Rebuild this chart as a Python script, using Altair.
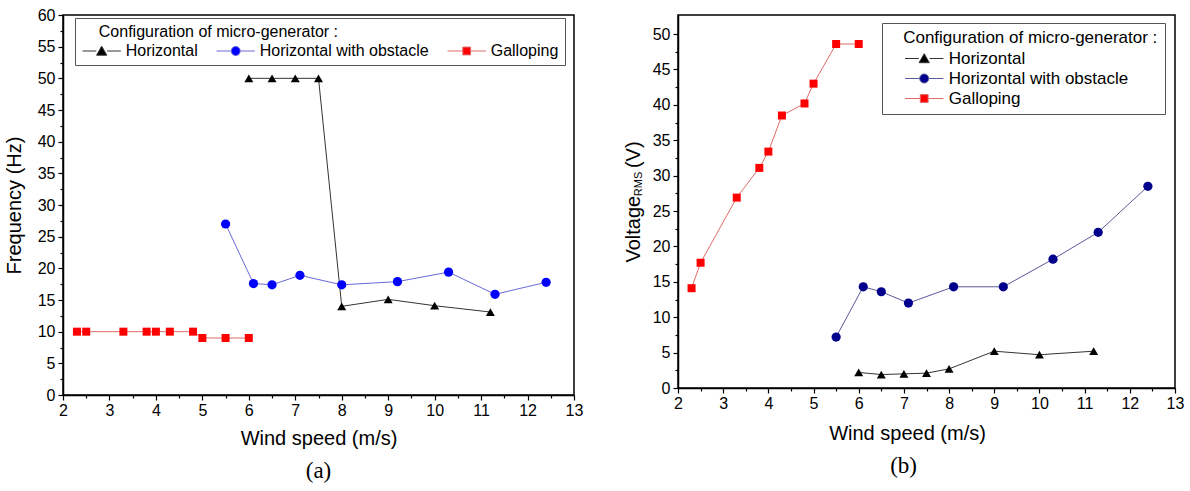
import altair as alt
import pandas as pd

series_names = ["Horizontal", "Horizontal with obstacle", "Galloping"]

# (a) Frequency (Hz) vs wind speed (m/s)
freq_h_x = [6.0, 6.5, 7.0, 7.5, 8.0, 9.0, 10.0, 11.2]
freq_h_y = [50, 50, 50, 50, 14.0, 15.1, 14.1, 13.1]
freq_o_x = [5.5, 6.1, 6.5, 7.1, 8.0, 9.2, 10.3, 11.3, 12.4]
freq_o_y = [27.0, 17.6, 17.4, 18.9, 17.4, 17.9, 19.4, 15.9, 17.8]
freq_g_x = [2.3, 2.5, 3.3, 3.8, 4.0, 4.3, 4.8, 5.0, 5.5, 6.0]
freq_g_y = [10, 10, 10, 10, 10, 10, 10, 9, 9, 9]

# (b) Voltage RMS (V) vs wind speed (m/s)
volt_h_x = [6.0, 6.5, 7.0, 7.5, 8.0, 9.0, 10.0, 11.2]
volt_h_y = [2.2, 1.9, 2.0, 2.1, 2.7, 5.2, 4.7, 5.2]
volt_o_x = [5.5, 6.1, 6.5, 7.1, 8.1, 9.2, 10.3, 11.3, 12.4]
volt_o_y = [7.2, 14.3, 13.6, 12.0, 14.3, 14.3, 18.2, 22.0, 28.5]
volt_g_x = [2.3, 2.5, 3.3, 3.8, 4.0, 4.3, 4.8, 5.0, 5.5, 6.0]
volt_g_y = [14.1, 17.7, 26.9, 31.1, 33.4, 38.5, 40.2, 43.0, 48.6, 48.6]

x_tick_values = [2 + 0.5 * i for i in range(23)]
freq_tick_values = [2.5 * i for i in range(25)]
volt_tick_values = [2.5 * i for i in range(21)]

left_marker_colors = ["#000000", "#0000ff", "#ff0000"]
left_line_colors = ["#333333", "#6a6ad8", "#e06a6a"]
right_marker_colors = ["#000000", "#00008c", "#ff0000"]
right_line_colors = ["#333333", "#5a5a9a", "#e06a6a"]
marker_shapes = ["triangle-up", "circle", "square"]

# legend glyphs: a short line with the marker in the middle (unit = sqrt(size)/2 px)
legend_paths = [
    "M-3.2,0H-0.9M0.9,0H3.2M-0.85,0.7L0,-0.8L0.85,0.7Z",
    "M-3.2,0H-0.8M0.8,0H3.2M0.75,0A0.75,0.75,0,1,1,-0.75,0A0.75,0.75,0,1,1,0.75,0Z",
    "M-3.2,0H-0.7M0.7,0H3.2M-0.65,-0.65H0.65V0.65H-0.65Z",
]


def make_df(hx, hy, ox, oy, gx, gy):
    rows = []
    for name, xs, ys in zip(series_names, [hx, ox, gx], [hy, oy, gy]):
        for i, (x, y) in enumerate(zip(xs, ys)):
            rows.append({"series": name, "x": x, "y": y, "order": i})
    return pd.DataFrame(rows)


df_a = make_df(freq_h_x, freq_h_y, freq_o_x, freq_o_y, freq_g_x, freq_g_y)
df_b = make_df(volt_h_x, volt_h_y, volt_o_x, volt_o_y, volt_g_x, volt_g_y)


def panel(df, width, height, ymax, yvals, ytitle, marker_colors, line_colors,
          legend, caption, cap_frame, y_title_kw, x_title_kw, extra):
    xaxis = alt.Axis(
        values=x_tick_values,
        labelExpr="datum.value % 1 ? '' : format(datum.value, 'd')",
        tickSize={"condition": {"test": "datum.value % 1", "value": 3}, "value": 5},
        grid=False, title="Wind speed (m/s)", domainColor="black", domainWidth=1.5,
        tickColor="black", tickWidth=1.2, labelFontSize=16, labelColor="black",
        labelPadding=2, titleFontSize=20, titleFontWeight="normal", titleColor="black",
        labelFlush=False, labelOverlap=False, **x_title_kw,
    )
    yaxis = alt.Axis(
        values=yvals,
        labelExpr="datum.value % 5 ? '' : format(datum.value, 'd')",
        tickSize={"condition": {"test": "datum.value % 5", "value": 3}, "value": 5},
        grid=False, title=ytitle, domainColor="black", domainWidth=1.5,
        tickColor="black", tickWidth=1.2, labelFontSize=16, labelColor="black",
        labelPadding=3, titleFontSize=20, titleFontWeight="normal", titleColor="black",
        labelFlush=False, labelOverlap=False, **y_title_kw,
    )
    xs = alt.Scale(domain=[2, 13], nice=False, zero=False)
    ys = alt.Scale(domain=[0, ymax], nice=False, zero=False)
    X = alt.X("x:Q", scale=xs, axis=xaxis)
    Y = alt.Y("y:Q", scale=ys, axis=yaxis)
    color_scale = alt.Scale(domain=series_names, range=marker_colors)
    stroke_scale = alt.Scale(domain=series_names, range=line_colors)

    base = alt.Chart(df)
    # legend-only layer first (draws nothing, defines the merged legend)
    leg = (
        base.transform_filter("false")
        .mark_point(filled=True, size=144, opacity=1, strokeWidth=1)
        .encode(
            x=X, y=Y,
            color=alt.Color("series:N", scale=color_scale, legend=legend),
            stroke=alt.Stroke("series:N", scale=stroke_scale, legend=legend),
            shape=alt.Shape("series:N", scale=alt.Scale(domain=series_names, range=legend_paths), legend=legend),
        )
    )
    lines = base.mark_line(strokeWidth=1).encode(
        x=X, y=Y,
        stroke=alt.Stroke("series:N", scale=stroke_scale),
        order="order:Q",
    )
    layers = [leg, lines]
    for name, shp, sz in zip(series_names, marker_shapes, [80, 85, 64]):
        layers.append(
            base.transform_filter(alt.datum.series == name)
            .mark_point(filled=True, shape=shp, size=sz, opacity=1)
            .encode(x=X, y=Y, color=alt.Color("series:N", scale=color_scale))
        )
    layers.extend(extra)
    return alt.layer(*layers).properties(
        width=width, height=height,
        title=alt.TitleParams(caption, orient="bottom", font="Liberation Serif", fontSize=23,
                              fontWeight="normal", color="black", anchor="middle",
                              frame=cap_frame, offset=12),
    )


NB = "\u00a0"
ZW = "\u200b"
TITLE = "Configuration of micro-generator :"

legend_a = alt.Legend(
    orient="none", legendX=12, legendY=3, direction="horizontal",
    title=ZW + NB * 4 + TITLE,
    titleFontSize=16, titleFontWeight="normal", titleColor="black", titleLimit=500,
    titlePadding=3, labelFontSize=16, labelColor="black", labelLimit=400,
    fillColor="white", strokeColor="#555555", padding=6,
    symbolSize=144, symbolStrokeWidth=1, symbolOffset=12.7, labelOffset=16,
    columnPadding=16,
)
legend_b = alt.Legend(
    orient="none", legendX=204, legendY=8, direction="vertical",
    title=ZW + NB * 3 + TITLE,
    titleFontSize=17, titleFontWeight="normal", titleColor="black", titleLimit=500,
    titlePadding=3, labelFontSize=17, labelColor="black", labelLimit=400,
    fillColor="white", strokeColor="#555555", padding=7,
    symbolSize=144, symbolStrokeWidth=1, symbolOffset=26.7, labelOffset=16,
    rowPadding=2,
)

rms = alt.Chart(pd.DataFrame({"t": ["RMS"]})).mark_text(
    text="RMS", angle=270, fontSize=11, align="center", baseline="middle", color="black"
).encode(x=alt.value(-39), y=alt.value(169))

left = panel(df_a, 511, 380, 60, freq_tick_values, "Frequency (Hz)",
             left_marker_colors, left_line_colors, legend_a, "(a)", "group",
             {"titlePadding": 13}, {"titlePadding": 10}, [])

right = panel(df_b, 497, 373, 52.7, volt_tick_values, "Voltage" + NB * 5 + "(V)",
              right_marker_colors, right_line_colors, legend_b, "(b)", "bounds",
              {"titlePadding": 9}, {"titlePadding": 12, "titleX": 229}, [rms])

chart = (
    alt.hconcat(left, right, spacing=38)
    .resolve_scale(color="independent", stroke="independent", shape="independent")
    .resolve_legend(color="independent", stroke="independent", shape="independent")
    .configure(font="Liberation Sans", padding={"left": 3, "top": 6, "right": 3, "bottom": 3})
    .configure_view(stroke="black", strokeWidth=1.5)
)

chart.save("out.html", embed_options={"renderer": "svg", "actions": False})
